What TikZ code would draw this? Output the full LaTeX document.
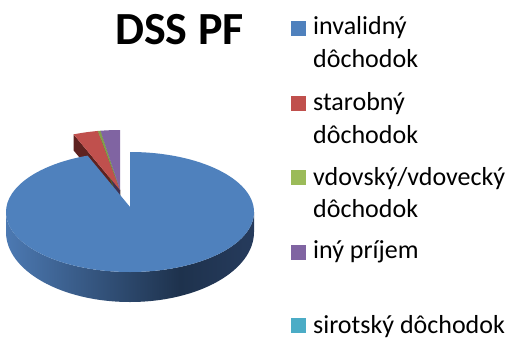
\documentclass[tikz,border=0pt]{standalone}
\usepackage{fontspec}
\setmainfont{Carlito}
\usetikzlibrary{calc}
\definecolor{pblue}{HTML}{4F81BD}
\definecolor{pred}{HTML}{C0504D}
\definecolor{pgreen}{HTML}{9BBB59}
\definecolor{ppurple}{HTML}{8064A2}
\definecolor{pcyan}{HTML}{4BACC6}
\definecolor{dred}{HTML}{5E2220}
\definecolor{dgreen}{HTML}{4F6228}
\definecolor{dpurple}{HTML}{3F3151}
\definecolor{sideA}{HTML}{4C79B2}
\definecolor{sideB}{HTML}{1E324D}
\definecolor{sideC}{HTML}{263B5C}
\pgfdeclarehorizontalshading{bluesideshade}{100bp}{color(0bp)=(sideA); color(25bp)=(sideA); color(60bp)=(sideB); color(75bp)=(sideC); color(100bp)=(sideC)}
\tikzset{
  legtext/.style={anchor=base west, inner sep=0pt, font=\fontsize{26}{31}\selectfont},
  legbox/.style={minimum size=15pt, inner sep=0pt, anchor=north west},
}
\begin{document}
\begin{tikzpicture}[x=1pt,y=1pt]
\fill[white] (0,0) rectangle (513,338);
\useasboundingbox (0,0) rectangle (513,338);
% main pie
\coordinate (C) at (130,131);
\coordinate (E) at (120,148);
% blue side
\shade[shading=bluesideshade] (6,126) arc[start angle=180, end angle=360, x radius=124, y radius=60]
  -- (254,106) arc[start angle=0, end angle=-180, x radius=124, y radius=70] -- cycle;
% exploded slices: dark faces
\fill[dred] (E) -- ($(E)+({124*cos(112)},{60*sin(112)})$) -- ++(0,-16) -- ($(E)+(0,-16)$) -- cycle;
\fill[dgreen] (E) -- ($(E)+({124*cos(100.3)},{60*sin(100.3)})$) -- ++(0,-16) -- ($(E)+(0,-16)$) -- cycle;
\fill[dpurple] (E) -- ($(E)+({124*cos(99)},{60*sin(99)})$) -- ++(0,-16) -- ($(E)+(0,-16)$) -- cycle;
% exploded slices: top faces
\fill[pred] (E) -- ($(E)+({124*cos(100.3)},{60*sin(100.3)})$) arc[start angle=100.3, end angle=112, x radius=124, y radius=60] -- cycle;
\fill[pgreen!70!dgreen] (E) -- ($(E)+({124*cos(99)},{60*sin(99)})$) arc[start angle=99, end angle=100.3, x radius=124, y radius=60] -- cycle;
\fill[ppurple] (E) -- ($(E)+(0,60)$) arc[start angle=90, end angle=99, x radius=124, y radius=60] -- cycle;
% blue top face
\fill[pblue] (C) -- (130,186) arc[start angle=90, end angle=-250, x radius=124, y radius=60] -- cycle;
% title
\node[anchor=base west, inner sep=0pt, font=\fontsize{46}{55}\bfseries\selectfont] (title) at (115,293) {DSS PF};
% legend
\node[legbox, fill=pblue] (b1) at (291,317) {};
\node[legtext] (t1) at (313,303) {invalidný};
\node[legtext] (t1b) at (313,270) {dôchodok};
\node[legbox, fill=pred] (b2) at (291,242) {};
\node[legtext] (t2) at (313,228) {starobný};
\node[legtext] (t2b) at (313,195) {dôchodok};
\node[legbox, fill=pgreen] (b3) at (291,168) {};
\node[legtext] (t3) at (313,153) {vdovský/vdovecký};
\node[legtext] (t3b) at (313,121) {dôchodok};
\node[legbox, fill=ppurple] (b4) at (291,93) {};
\node[legtext] (t4) at (313,80) {iný príjem};
\node[legbox, fill=pcyan] (b5) at (291,20) {};
\node[legtext] (t5) at (313,5) {sirotský dôchodok};
\end{tikzpicture}
\end{document}
